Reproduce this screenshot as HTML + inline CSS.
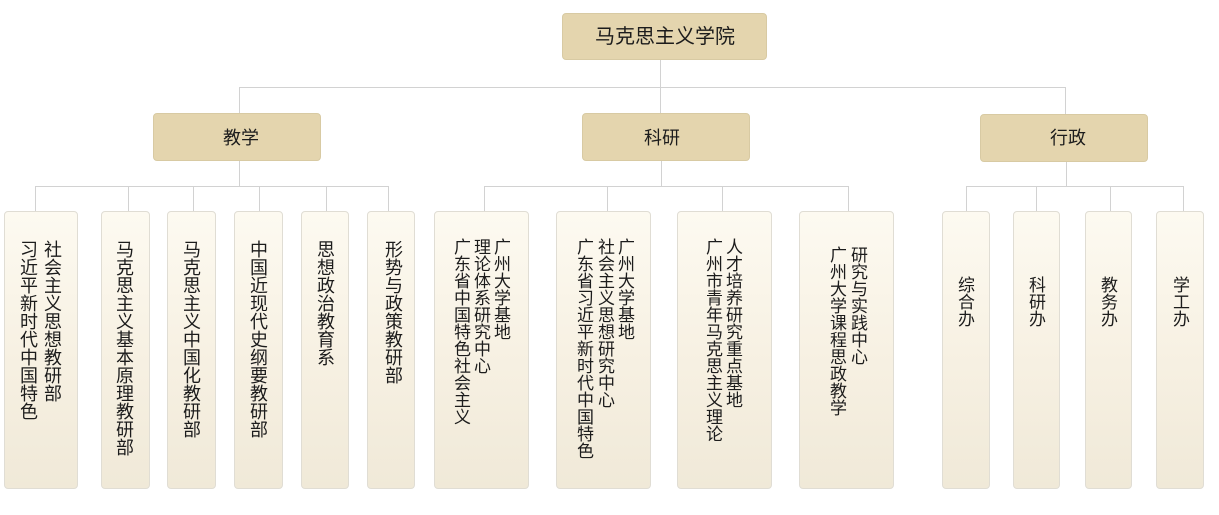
<!DOCTYPE html>
<html>
<head>
<meta charset="utf-8">
<style>
  html, body { margin:0; padding:0; background:#ffffff; }
  body { width:1219px; height:515px; position:relative; overflow:hidden;
         font-family:"Liberation Sans","Noto Sans CJK SC","WenQuanYi Zen Hei",sans-serif; color:#1c1c1c; }
  .ln { position:absolute; background:#d2d2d2; }
  .hd { position:absolute; box-sizing:border-box; background:#e4d5ae; border:1px solid #d8caa3; border-radius:4px; }
  .lf { position:absolute; box-sizing:border-box; top:211px; height:278px; border:1px solid #e0ddd4; border-radius:4px;
        background:linear-gradient(to bottom,#fdfaf1 0%,#f7f1e3 50%,#f0e9d8 100%); }
  .ht { position:absolute; white-space:nowrap; text-align:center; }
  .col { position:absolute; text-align:center; word-break:break-all; }
  .c18 { font-size:18px; line-height:18px; width:18px; }
  .c17 { font-size:17px; line-height:17px; width:17px; }
</style>
</head>
<body>
<!-- connectors -->
<div class="ln" style="left:660px;top:60px;width:1px;height:27px;"></div>
<div class="ln" style="left:239px;top:87px;width:827px;height:1px;"></div>
<div class="ln" style="left:239px;top:87px;width:1px;height:26px;"></div>
<div class="ln" style="left:660px;top:87px;width:1px;height:26px;"></div>
<div class="ln" style="left:1065px;top:87px;width:1px;height:27px;"></div>

<div class="ln" style="left:239px;top:161px;width:1px;height:25px;"></div>
<div class="ln" style="left:661px;top:161px;width:1px;height:25px;"></div>
<div class="ln" style="left:1066px;top:162px;width:1px;height:24px;"></div>

<div class="ln" style="left:35px;top:186px;width:354px;height:1px;"></div>
<div class="ln" style="left:484px;top:186px;width:365px;height:1px;"></div>
<div class="ln" style="left:966px;top:186px;width:218px;height:1px;"></div>

<div class="ln" style="left:35px;top:186px;width:1px;height:25px;"></div>
<div class="ln" style="left:128px;top:186px;width:1px;height:25px;"></div>
<div class="ln" style="left:193px;top:186px;width:1px;height:25px;"></div>
<div class="ln" style="left:259px;top:186px;width:1px;height:25px;"></div>
<div class="ln" style="left:326px;top:186px;width:1px;height:25px;"></div>
<div class="ln" style="left:388px;top:186px;width:1px;height:25px;"></div>

<div class="ln" style="left:484px;top:186px;width:1px;height:25px;"></div>
<div class="ln" style="left:607px;top:186px;width:1px;height:25px;"></div>
<div class="ln" style="left:722px;top:186px;width:1px;height:25px;"></div>
<div class="ln" style="left:848px;top:186px;width:1px;height:25px;"></div>

<div class="ln" style="left:966px;top:186px;width:1px;height:25px;"></div>
<div class="ln" style="left:1036px;top:186px;width:1px;height:25px;"></div>
<div class="ln" style="left:1110px;top:186px;width:1px;height:25px;"></div>
<div class="ln" style="left:1183px;top:186px;width:1px;height:25px;"></div>

<!-- root -->
<div class="hd" style="left:562px;top:13px;width:205px;height:47px;"></div>
<div class="ht" style="left:565px;width:200px;top:23px;font-size:20px;line-height:28px;">马克思主义学院</div>

<!-- mid -->
<div class="hd" style="left:153px;top:113px;width:168px;height:48px;"></div>
<div class="ht" style="left:191px;width:100px;top:125px;font-size:18px;line-height:26px;">教学</div>
<div class="hd" style="left:582px;top:113px;width:168px;height:48px;"></div>
<div class="ht" style="left:612px;width:100px;top:125px;font-size:18px;line-height:26px;">科研</div>
<div class="hd" style="left:980px;top:114px;width:168px;height:48px;"></div>
<div class="ht" style="left:1018px;width:100px;top:125px;font-size:18px;line-height:26px;">行政</div>

<!-- leaves -->
<div class="lf" style="left:4px;width:74px;"></div>
<div class="lf" style="left:101px;width:49px;"></div>
<div class="lf" style="left:167px;width:49px;"></div>
<div class="lf" style="left:234px;width:49px;"></div>
<div class="lf" style="left:301px;width:48px;"></div>
<div class="lf" style="left:367px;width:48px;"></div>

<div class="lf" style="left:434px;width:95px;"></div>
<div class="lf" style="left:556px;width:95px;"></div>
<div class="lf" style="left:677px;width:95px;"></div>
<div class="lf" style="left:799px;width:95px;"></div>

<div class="lf" style="left:942px;width:48px;"></div>
<div class="lf" style="left:1013px;width:47px;"></div>
<div class="lf" style="left:1085px;width:47px;"></div>
<div class="lf" style="left:1156px;width:48px;"></div>

<!-- leaf texts: teaching (18px) -->
<div class="col c18" style="left:20px;top:241px;">习近平新时代中国特色</div>
<div class="col c18" style="left:44px;top:241px;">社会主义思想教研部</div>
<div class="col c18" style="left:116px;top:241px;">马克思主义基本原理教研部</div>
<div class="col c18" style="left:183px;top:241px;">马克思主义中国化教研部</div>
<div class="col c18" style="left:250px;top:241px;">中国近现代史纲要教研部</div>
<div class="col c18" style="left:317px;top:241px;">思想政治教育系</div>
<div class="col c18" style="left:385px;top:241px;">形势与政策教研部</div>

<!-- research (17px) -->
<div class="col c17" style="left:454px;top:239px;">广东省中国特色社会主义</div>
<div class="col c17" style="left:474px;top:239px;">理论体系研究中心</div>
<div class="col c17" style="left:494px;top:239px;">广州大学基地</div>

<div class="col c17" style="left:577px;top:239px;">广东省习近平新时代中国特色</div>
<div class="col c17" style="left:598px;top:239px;">社会主义思想研究中心</div>
<div class="col c17" style="left:618px;top:239px;">广州大学基地</div>

<div class="col c17" style="left:706px;top:239px;">广州市青年马克思主义理论</div>
<div class="col c17" style="left:726px;top:239px;">人才培养研究重点基地</div>

<div class="col c17" style="left:830px;top:247px;">广州大学课程思政教学</div>
<div class="col c17" style="left:851px;top:247px;">研究与实践中心</div>

<!-- admin (17px) -->
<div class="col c17" style="left:958px;top:277px;">综合办</div>
<div class="col c17" style="left:1029px;top:277px;">科研办</div>
<div class="col c17" style="left:1101px;top:277px;">教务办</div>
<div class="col c17" style="left:1173px;top:277px;">学工办</div>
</body>
</html>
